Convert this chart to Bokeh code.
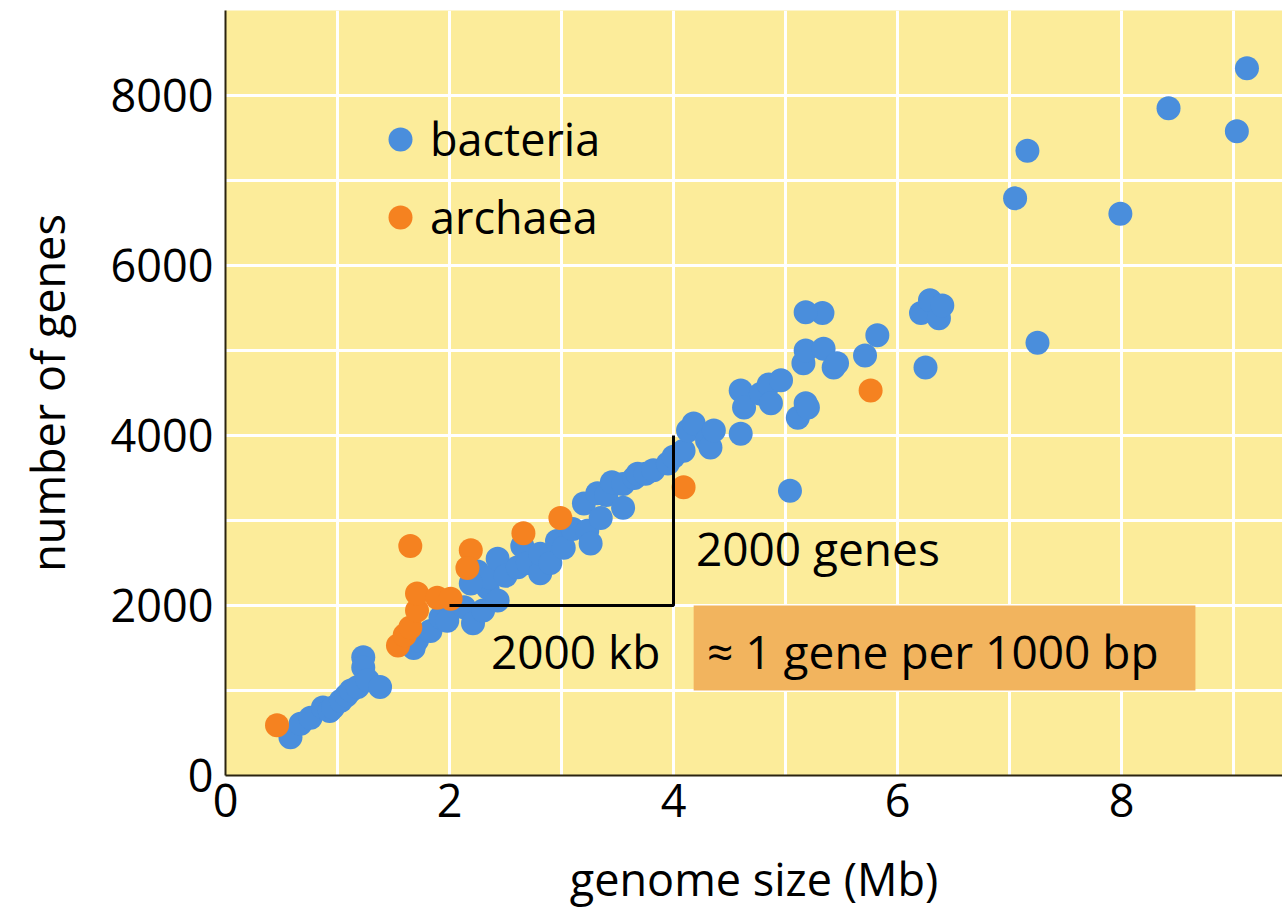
from bokeh.plotting import figure
from bokeh.models import (ColumnDataSource, FixedTicker, Range1d, Legend, LegendItem,
                          BoxAnnotation, Label)
from bokeh.embed import file_html
from bokeh.resources import INLINE

# ---------------- data ----------------
bacteria_size_mb = [0.58, 0.67, 0.76, 0.87, 0.93, 0.96, 1.03, 1.08, 1.12, 1.18, 1.23, 1.23,
                    1.27, 1.38, 1.68, 1.71, 1.83, 1.92, 1.98, 2.13, 2.21, 2.25, 2.30, 2.34,
                    2.35, 2.19, 2.43, 2.43, 2.50, 2.61, 2.65, 2.70, 2.81, 2.81, 2.90, 2.96,
                    3.02, 3.10, 3.20, 3.23, 3.26, 3.32, 3.35, 3.40, 3.45, 3.55, 3.55, 3.65,
                    3.68, 3.75, 3.82, 3.95, 4.00, 4.09, 4.13, 4.18, 4.30, 4.33, 4.36, 4.60,
                    4.60, 4.63, 4.78, 4.85, 4.87, 4.96, 5.04, 5.11, 5.16, 5.18, 5.18, 5.20,
                    5.33, 5.34, 5.43, 5.46, 5.71, 5.82, 6.21, 6.25, 6.29, 6.37, 6.40, 7.05,
                    7.16, 7.25, 7.99, 8.42, 9.03, 9.12, 5.18]
bacteria_genes = [450, 610, 680, 800, 760, 800, 880, 940, 1000, 1040, 1390, 1270,
                  1120, 1040, 1500, 1590, 1700, 1860, 1820, 1980, 1790, 2400, 1940, 2210,
                  2330, 2260, 2060, 2550, 2350, 2450, 2700, 2500, 2380, 2610, 2500, 2760,
                  2680, 2900, 3200, 2880, 2730, 3320, 3030, 3300, 3450, 3150, 3430, 3500,
                  3550, 3550, 3590, 3670, 3750, 3820, 4060, 4140, 3940, 3860, 4060, 4020,
                  4530, 4330, 4490, 4600, 4380, 4650, 3350, 4210, 4850, 4380, 5000, 4330,
                  5440, 5020, 4800, 4850, 4940, 5180, 5440, 4800, 5590, 5380, 5530, 6790,
                  7350, 5090, 6610, 7850, 7580, 8320, 5450]

archaea_size_mb = [0.46, 1.54, 1.60, 1.65, 1.71, 1.71, 1.89, 2.01, 1.65, 2.19, 2.16,
                   2.66, 2.99, 4.09, 5.76]
archaea_genes = [590, 1530, 1650, 1740, 1940, 2140, 2090, 2080, 2700, 2650, 2440,
                 2850, 3030, 3390, 4530]

x_ticks = [0, 2, 4, 6, 8]
y_ticks = [0, 2000, 4000, 6000, 8000]
x_grid = [1, 2, 3, 4, 5, 6, 7, 8, 9]
y_grid = [1000, 2000, 3000, 4000, 5000, 6000, 7000, 8000]

# annotation: slope triangle and the rate box
tri_x = [2, 4, 4]
tri_y = [2000, 2000, 4000]
box_left, box_right, box_bottom, box_top = 4.18, 8.66, 1000, 2000

FONT = "Open Sans"
BLUE = "#4A8EDC"
ORANGE = "#F58220"

p = figure(width=1282, height=911, output_backend="svg", toolbar_location=None,
           x_range=Range1d(0, 9.4375), y_range=Range1d(0, 9000),
           min_border_left=225, min_border_top=10, min_border_right=0, min_border_bottom=136)

p.background_fill_color = "#FCEC9A"
p.border_fill_color = "white"
p.outline_line_color = None

# grid
p.xgrid.ticker = FixedTicker(ticks=x_grid)
p.ygrid.ticker = FixedTicker(ticks=y_grid)
for g in (p.xgrid, p.ygrid):
    g.grid_line_color = "white"
    g.grid_line_width = 3
    g.grid_line_alpha = 1.0

# axes
p.xaxis.ticker = FixedTicker(ticks=x_ticks)
p.yaxis.ticker = FixedTicker(ticks=y_ticks)
for ax in (p.xaxis, p.yaxis):
    ax.axis_line_color = "#2b2410"
    ax.axis_line_width = 2
    ax.major_tick_line_color = None
    ax.minor_tick_line_color = None
    ax.major_tick_out = 0
    ax.major_tick_in = 0
    ax.major_label_text_font = FONT
    ax.major_label_text_font_size = "45px"
    ax.major_label_text_color = "black"
    ax.axis_label_text_font = FONT
    ax.axis_label_text_font_size = "45px"
    ax.axis_label_text_font_style = "normal"
    ax.axis_label_text_color = "black"
p.xaxis.axis_label = "genome size (Mb)"
p.yaxis.axis_label = "number of genes"
p.xaxis.major_label_standoff = 8
p.xaxis.axis_label_standoff = 28
p.yaxis.major_label_standoff = 12
p.yaxis.axis_label_standoff = 30

p.add_layout(BoxAnnotation(left=box_left, right=box_right, bottom=box_bottom, top=box_top,
                           fill_color="#F2B45E", fill_alpha=1.0, line_color=None, level="underlay"))

src_b = ColumnDataSource(dict(x=bacteria_size_mb, y=bacteria_genes))
src_a = ColumnDataSource(dict(x=archaea_size_mb, y=archaea_genes))
rb = p.scatter("x", "y", source=src_b, size=24, marker="circle",
               fill_color=BLUE, line_color=None)
ra = p.scatter("x", "y", source=src_a, size=24, marker="circle",
               fill_color=ORANGE, line_color=None)

p.line(tri_x, tri_y, line_color="black", line_width=3)

label_kw = dict(text_font=FONT, text_font_size="46px", text_color="black",
                text_baseline="middle")
p.add_layout(Label(x=2.37, y=1470, text="2000 kb", **label_kw))
p.add_layout(Label(x=4.2, y=2680, text="2000 genes", **label_kw))
p.add_layout(Label(x=4.3, y=1470, text="\u2248 1 gene per 1000 bp", **label_kw))

legend = Legend(items=[LegendItem(label="bacteria", renderers=[rb]),
                       LegendItem(label="archaea", renderers=[ra])],
                location=(145, 528), orientation="vertical",
                glyph_width=60, glyph_height=60, spacing=17, padding=0, margin=0,
                label_standoff=0, label_text_font=FONT, label_text_font_size="45px",
                label_text_color="black", background_fill_alpha=0,
                border_line_color=None)
p.add_layout(legend, "center")

open("out.html", "w").write(file_html(p, INLINE))
